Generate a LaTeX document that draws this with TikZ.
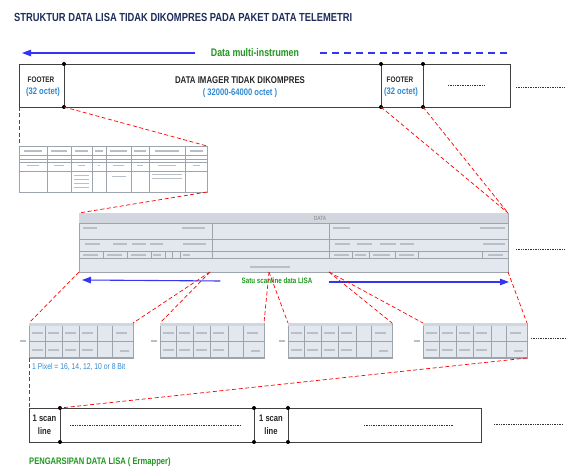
\documentclass[tikz,border=0pt]{standalone}
\usepackage{fontspec}
\setmainfont{Liberation Sans}[FakeStretch=0.8]
\usetikzlibrary{arrows.meta}

\definecolor{titlenavy}{HTML}{1F2D5A}
\definecolor{lisagreen}{HTML}{1E961E}
\definecolor{octblue}{HTML}{2F88D2}
\definecolor{arrblue}{HTML}{3434F2}
\definecolor{rastfill}{HTML}{E3E8EF}
\definecolor{rasthead}{HTML}{D2D7DF}
\definecolor{rastline}{HTML}{9EA4AE}
\definecolor{smudge}{HTML}{B9BFC8}

\tikzset{
  bigbox/.style={draw=black!75, line width=0.9pt, inner sep=0pt, outer sep=0pt, anchor=north west},
  knot/.style={circle, fill=black, inner sep=0pt, minimum size=4pt},
  cut/.style={red, line width=0.7pt, dash pattern=on 4pt off 2.5pt},
  flow/.style={arrblue, line width=1.1pt},
  dotrow/.style={black!80, line width=0.8pt, dash pattern=on 0.8pt off 0.9pt},
  rastbox/.style={draw=rastline, fill=rastfill, line width=0.6pt, inner sep=0pt, outer sep=0pt, anchor=north west},
  rl/.style={draw=rastline, line width=0.5pt},
  cellcap/.style={font=\bfseries\fontsize{8}{9}\selectfont, text=black!85, inner sep=0pt},
  octcap/.style={font=\bfseries\fontsize{9.5}{11}\selectfont, text=octblue, inner sep=0pt},
  scancap/.style={font=\bfseries\fontsize{9.5}{13}\selectfont, text=black!85, inner sep=0pt, align=center},
  greencap/.style={font=\bfseries\fontsize{#1}{#1}\selectfont, text=lisagreen, inner sep=0pt}
}

\begin{document}
\begin{tikzpicture}[x=1pt, y=-1pt]
\useasboundingbox (0,0) rectangle (566,470);

\node[anchor=west, inner sep=0pt, text=titlenavy, font=\bfseries\fontsize{11.7}{13}\selectfont] (title) at (14,17) {STRUKTUR DATA LISA TIDAK DIKOMPRES PADA PAKET DATA TELEMETRI};

% data multi-instrumen
\node[greencap=11] (dmi) at (255,53) {Data multi-instrumen};
\coordinate (dmiL) at (22,53);
\coordinate (dmiR) at (511,53);
\draw[flow, -{Triangle[length=9pt, width=6.5pt]}] ([xshift=-16pt]dmi.west) -- (dmiL);
\draw[flow, dash pattern=on 7pt off 5pt] ([xshift=21pt]dmi.east) -- (dmiR);

% paket telemetri
\node[bigbox, minimum width=491pt, minimum height=43pt] (pkt) at (19,64) {};
\coordinate (f1t) at (64,64);  \coordinate (f1b) at (64,107);
\coordinate (f2t) at (381,64); \coordinate (f2b) at (381,107);
\coordinate (f3t) at (423,64); \coordinate (f3b) at (423,107);
\draw[black!75, line width=0.9pt] (f1t) -- (f1b) (f2t) -- (f2b) (f3t) -- (f3b);
\foreach \p in {f1t,f1b,f2t,f2b,f3t,f3b} \node[knot] (k\p) at (\p) {};

\node[cellcap] (foot1) at (41,80) {FOOTER};
\node[octcap] (oct1) at (43,92) {(32 octet)};
\node[cellcap, font=\bfseries\fontsize{9.8}{11}\selectfont] (img) at (240,80) {DATA IMAGER TIDAK DIKOMPRES};
\node[octcap] (imgoct) at (240,93) {( 32000-64000 octet )};
\node[cellcap] (foot2) at (400,80) {FOOTER};
\node[octcap] (oct2) at (401,92) {(32 octet)};
\coordinate (d1a) at (448,85); \coordinate (d1b) at (484,85);
\coordinate (d2a) at (516,87); \coordinate (d2b) at (564,87);
\draw[dotrow] (d1a) -- (d1b) (d2a) -- (d2b);

% footer table
\node[rastbox, fill=white, minimum width=188pt, minimum height=46pt] (t1) at (19,146) {};
\foreach \c in {47,71,92,106,131,149,185} \draw[rl] (\c,146) -- (\c,192);
\foreach \r in {155,159,162,171} \draw[rl] (19,\r) -- (207,\r);
\foreach \a/\b in {24/42,51/67,75/88,95/103,110/127,134/146,155/179,190/203} {
  \fill[smudge] (\a,150) rectangle (\b,151.6);
  \fill[smudge] (\a+3,165) rectangle (\b-3,166.4);
}
\foreach \y in {175,179,183,187} \fill[smudge] (74,\y) rectangle (89,\y+1.2);
\foreach \y in {174,178} \fill[smudge] (152,\y) rectangle (182,\y+1.2);
\fill[smudge] (112,176) rectangle (126,177.2);

% scan line table
\node[rastbox, minimum width=429pt, minimum height=59pt] (t2) at (79,213) {};
\fill[rasthead] (79.3,213.3) rectangle (507.7,223);
\foreach \r in {223,239,251,258} \draw[rl] (79,\r) -- (508,\r);
\foreach \c in {212,329} \draw[rl, line width=0.8pt] (\c,223) -- (\c,258);
\foreach \c in {103,127,151,165,172,180,352,369,395,418,482} \draw[rl] (\c,251) -- (\c,258);
\node[inner sep=0pt, text=black!50, font=\fontsize{6}{6}\selectfont] (hdr) at (320,218) {DATA};
\foreach \a/\b/\y in {83/97/227,182/205/227,333/350/227,480/505/227,85/100/243,113/127/243,132/146/243,150/163/243,183/206/243,335/350/243,357/372/243,380/396/243,400/414/243,483/505/243,83/98/254,107/122/254,131/146/254,153/161/254,183/190/254,334/349/254,355/366/254,373/390/254,399/414/254,488/503/254,250/290/266} \fill[smudge] (\a,\y) rectangle (\b,\y+1.6);
\coordinate (s1) at (210,272);
\coordinate (s2) at (269,272);
\coordinate (s3) at (329,272);
\coordinate (d3a) at (516,249); \coordinate (d3b) at (564,249);
\draw[dotrow] (d3a) -- (d3b);

% satu scanline
\node[greencap=7.8] (scl) at (277,281) {Satu scanline data LISA};
\coordinate (sclL) at (82,280);
\coordinate (sclR) at (509,282);
\draw[flow, -{Triangle[length=9pt, width=6.5pt]}] ([xshift=-21pt]scl.west) -- (sclL);
\draw[flow, -{Triangle[length=9pt, width=6.5pt]}] ([xshift=16pt,yshift=-1pt]scl.east) -- (sclR);

% pixel tables
\foreach \px [count=\i] in {29,160,288,423} {
  \node[rastbox, minimum width=104pt, minimum height=35pt] (p\i) at (\px,323) {};
  \fill[rasthead] (\px,323) rectangle ++(104,3.5);
  \draw[rl] (\px,341) -- ++(104,0);
  \foreach \c in {16,33,50,68,83} \draw[rl] (\px+\c,326) -- ++(0,32);
  \draw[rastline, line width=1.2pt] (\px,357.5) -- ++(104,0);
  \fill[smudge] (\px-9,340) rectangle ++(6,2);
  \foreach \c in {3,19,36,53,87} \fill[smudge] (\px+\c,332) rectangle ++(11,1.8);
  \foreach \c in {3,19,36,53} \fill[smudge] (\px+\c,349) rectangle ++(11,1.8);
  \fill[smudge] (\px+91,350) rectangle ++(9,1.8);
}
\coordinate (d4a) at (531,338); \coordinate (d4b) at (566,338);
\draw[dotrow] (d4a) -- (d4b);
\node[anchor=west, inner sep=0pt, text=octblue, font=\fontsize{8.5}{9}\selectfont] (pix) at (32,367) {1 Pixel = 16, 14, 12, 10 or 8 Bit};

% pengarsipan
\node[bigbox, minimum width=452pt, minimum height=34pt] (arc) at (29,408) {};
\coordinate (b1t) at (60,408);  \coordinate (b1b) at (60,442);
\coordinate (b2t) at (254,408); \coordinate (b2b) at (254,442);
\coordinate (b3t) at (288,408); \coordinate (b3b) at (288,442);
\draw[black!75, line width=0.9pt] (b1t) -- (b1b) (b2t) -- (b2b) (b3t) -- (b3b);
\foreach \p in {b1t,b1b,b2t,b2b,b3t,b3b} \node[knot] (k\p) at (\p) {};
\node[scancap] (scan1) at (44.5,425) {1 scan\\line};
\node[scancap] (scan2) at (271,425) {1 scan\\line};
\coordinate (d5a) at (70,425);  \coordinate (d5b) at (241,425);
\coordinate (d6a) at (364,425); \coordinate (d6b) at (454,425);
\coordinate (d7a) at (494,424); \coordinate (d7b) at (563,424);
\draw[dotrow] (d5a) -- (d5b) (d6a) -- (d6b) (d7a) -- (d7b);
\node[greencap=9.5, anchor=west] (ermap) at (29,462) {PENGARSIPAN DATA LISA ( Ermapper)};

% red cut lines
\draw[cut] (pkt.south west) -- (t1.north west);
\draw[cut] (f1b) -- (t1.north east);
\draw[cut] (t1.south east) -- (t2.north west);
\draw[cut] (f2b) -- (t2.north east);
\draw[cut] (f3b) -- (t2.north east);
\draw[cut] (t2.south west) -- (p1.north west);
\draw[cut] (s1) -- (p1.north east);
\draw[cut] (s1) -- (p2.north west);
\draw[cut] (s2) -- (p2.north east);
\draw[cut] (s2) -- (p3.north west);
\draw[cut] (s3) -- (p3.north east);
\draw[cut] (s3) -- (p4.north west);
\draw[cut] (t2.south east) -- (p4.north east);
\draw[cut] (p1.south west) -- (arc.north west);
\draw[cut] (p4.south east) -- (b1t);
\end{tikzpicture}
\end{document}
